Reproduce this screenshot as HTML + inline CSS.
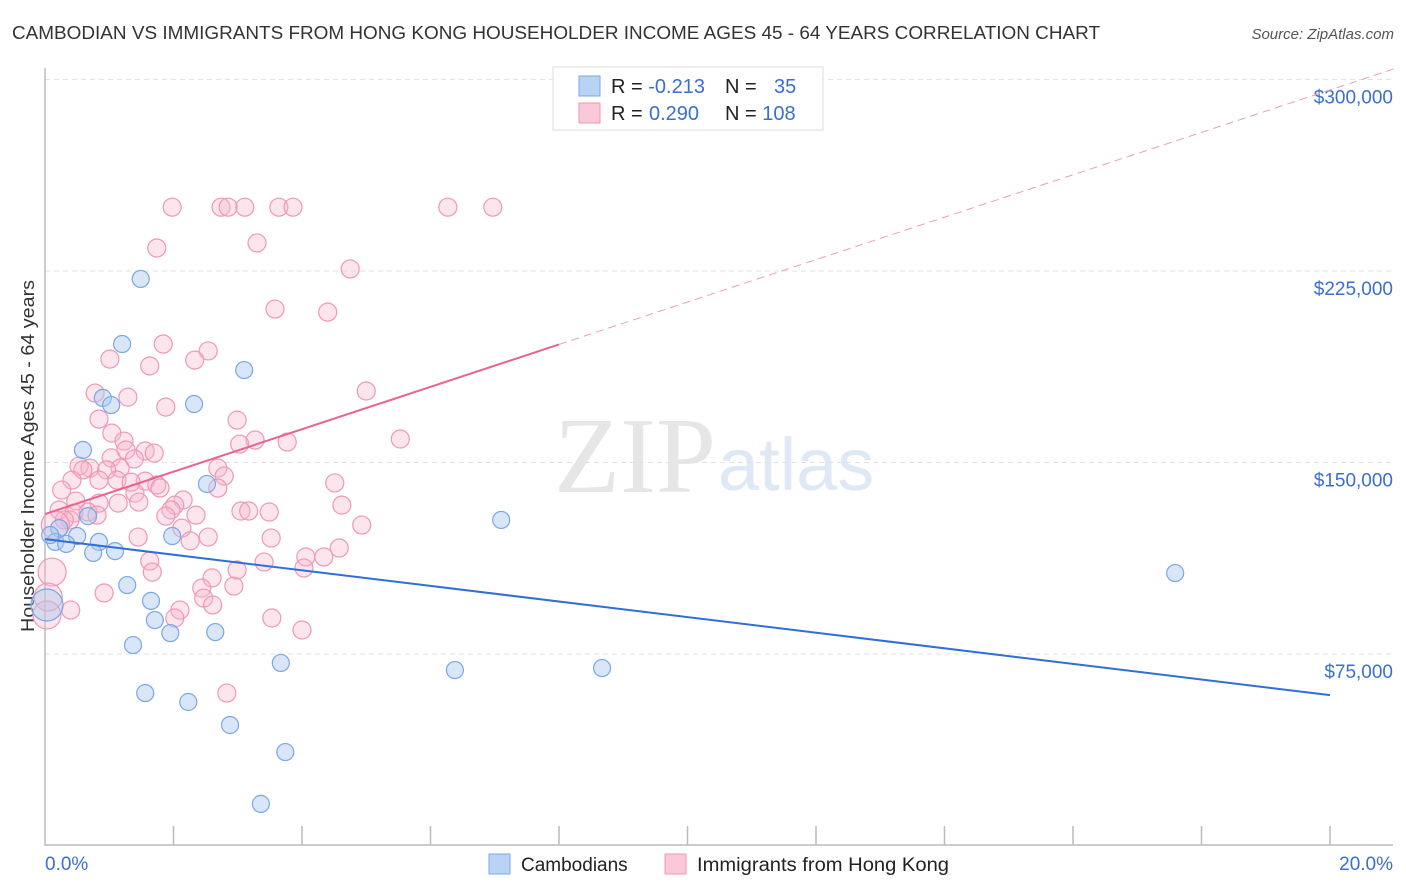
<!DOCTYPE html>
<html><head><meta charset="utf-8"><style>
body{margin:0;background:#fff;font-family:"Liberation Sans",sans-serif;}
#wrap{position:relative;width:1406px;height:892px;overflow:hidden}
</style></head><body><div id="wrap">
<svg id="svg" width="1406" height="892" xmlns="http://www.w3.org/2000/svg">
<text x="12" y="39" font-size="18" fill="#333" textLength="1088" lengthAdjust="spacingAndGlyphs">CAMBODIAN VS IMMIGRANTS FROM HONG KONG HOUSEHOLDER INCOME AGES 45 - 64 YEARS CORRELATION CHART</text>
<text x="1394" y="39" font-size="15" fill="#555" font-style="italic" text-anchor="end">Source: ZipAtlas.com</text>
<text x="34" y="456" font-size="18" fill="#333" text-anchor="middle" textLength="352" lengthAdjust="spacingAndGlyphs" transform="rotate(-90 34 456)">Householder Income Ages 45 - 64 years</text>
<text x="716" y="492" font-size="108" fill="#e6e6e6" text-anchor="end" font-family="Liberation Serif,serif" textLength="162" lengthAdjust="spacingAndGlyphs">ZIP</text>
<text x="718" y="490" font-size="74" fill="#dfe8f5">atlas</text>
<g id="grid"></g><g id="axes"></g><g id="pts"></g><g id="trend"></g>
<g>
<rect x="553" y="67" width="270" height="63" fill="#fff" stroke="#ddd"/>
<rect x="579" y="76" width="21" height="20" fill="#b9d3f5" stroke="#7aa7e6"/>
<rect x="579" y="103" width="21" height="20" fill="#fac8d8" stroke="#ee98b5"/>
<text x="611" y="93" font-size="20" fill="#222">R = <tspan fill="#3a6fd0">-0.213</tspan></text>
<text x="725" y="93" font-size="20" fill="#222">N = <tspan fill="#3a6fd0" x="774">35</tspan></text>
<text x="611" y="120" font-size="20" fill="#222">R = <tspan fill="#3a6fd0" x="649">0.290</tspan></text>
<text x="725" y="120" font-size="20" fill="#222">N = <tspan fill="#3a6fd0">108</tspan></text>
</g>
<g>
<rect x="489" y="854" width="21" height="20" fill="#b9d3f5" stroke="#7aa7e6"/>
<text x="521" y="871" font-size="19" fill="#222">Cambodians</text>
<rect x="665" y="854" width="21" height="20" fill="#fac8d8" stroke="#ee98b5"/>
<text x="697" y="871" font-size="19" fill="#222" textLength="252" lengthAdjust="spacingAndGlyphs">Immigrants from Hong Kong</text>
</g>
</svg></div>
<script>
const yTicks=[75000,150000,225000,300000];
const yTickLabels=["$75,000","$150,000","$225,000","$300,000"];
const xTickLabels=["0.0%","20.0%"];
const blueX=[1.49,1.20,3.10,0.90,1.03,2.32,0.59,2.52,0.67,7.10,0.22,0.50,1.98,0.16,0.33,0.84,1.09,0.75,1.28,1.65,1.71,1.95,2.65,1.37,3.67,6.38,8.67,17.59,1.56,2.23,2.88,3.74,3.36,0.03,0.08];
const blueY=[221.9,196.4,186.2,175.3,172.5,172.9,154.9,141.6,129.0,127.5,124.3,121.2,121.2,118.9,118.1,118.9,115.3,114.6,102.0,95.8,88.3,83.2,83.6,78.5,71.5,68.7,69.5,106.7,59.7,56.2,47.2,36.6,16.3,94.2,121.6];
const blueBig=[0,0,0,0,0,0,0,0,0,0,0,0,0,0,0,0,0,0,0,0,0,0,0,0,0,0,0,0,0,0,0,0,0,1,0];
const pinkX=[1.98,2.74,2.85,3.11,3.64,3.86,6.27,6.97,1.74,3.30,4.75,3.58,4.40,1.84,2.54,1.01,2.33,1.63,5.00,0.78,1.29,1.88,0.84,2.99,1.04,1.23,3.27,3.77,5.53,3.03,1.26,1.56,1.70,1.03,1.39,0.53,0.70,1.17,2.69,0.96,0.59,2.79,0.42,0.84,1.12,1.56,1.34,1.74,4.51,1.79,2.69,0.26,1.40,0.48,0.84,2.15,1.14,1.46,4.62,2.02,0.22,0.45,0.67,1.96,3.05,3.17,3.49,2.35,1.88,0.39,0.81,0.30,4.93,2.13,0.16,1.45,2.54,3.52,2.26,4.58,4.06,4.34,1.63,3.41,4.03,2.99,1.67,2.60,0.11,2.94,2.44,0.92,2.47,0.05,2.61,2.10,0.40,2.02,3.53,4.00,2.83,0.03];
const pinkY=[250,250,250,250,250,250,250,250,234.0,236.0,225.8,210.1,208.9,196.4,193.7,190.5,190.1,187.8,178.0,177.2,175.6,171.7,167.0,166.6,161.5,158.4,158.8,158.0,159.2,157.2,154.9,154.5,153.7,151.8,151.4,148.6,147.8,147.8,147.8,147.1,147.1,144.7,143.1,143.1,143.1,142.7,142.3,141.2,142.0,140.0,140.0,139.2,138.0,134.9,134.1,135.3,134.1,134.5,133.3,133.3,131.4,130.2,130.6,131.4,131.0,131.0,130.6,129.4,129.0,127.5,129.4,127.5,125.5,124.3,125.5,120.8,120.8,120.4,119.3,116.5,113.0,113.0,111.4,111.0,108.7,107.9,107.1,104.8,107.1,101.6,100.8,98.9,96.9,97.3,94.2,92.2,92.2,89.1,89.1,84.4,59.7,90.3];
const pinkBigIdx=[74,88,93,101];
const blueTrend=[120.0,58.9];   // value at 0% and 20%
const pinkTrend=[129.8,295.9];
const NS='http://www.w3.org/2000/svg';
const X0=45,X1=1330,YB=845.5;
const xs=p=>X0+(p/20)*(X1-X0);
const ys=v=>YB-(v/75000)*191.5;
const yk=v=>ys(v*1000);
function mk(tag,attrs,parent){const e=document.createElementNS(NS,tag);for(const k in attrs)e.setAttribute(k,attrs[k]);parent.appendChild(e);return e;}
const grid=document.getElementById('grid'),axes=document.getElementById('axes'),pts=document.getElementById('pts'),tr=document.getElementById('trend');
yTicks.forEach((t,i)=>{
 const l=mk('line',{x1:45,x2:1393,y1:ys(t),y2:ys(t),stroke:'#e2e2e2','stroke-dasharray':'5,4'},grid);
 
 
 const tx=mk('text',{x:1393,y:ys(t)+24,'font-size':19,fill:'#3a6fd0','text-anchor':'end'},axes);
 tx.textContent=yTickLabels[i];
 
 
});
const ax=mk('path',{d:'M45,68 V845 H1393',fill:'none',stroke:'#bbb','stroke-width':1.5},axes);


for(let i=1;i<=10;i++){const x=xs(i*2);const t=mk('line',{x1:x,x2:x,y1:826,y2:845,stroke:'#bbb','stroke-width':1.5},axes);
 
 }
[[45,'start'],[1393,'end']].forEach((a,i)=>{const t=mk('text',{x:a[0],y:870,'font-size':19,fill:'#3a6fd0','text-anchor':a[1]},axes);t.textContent=xTickLabels[i];
 
 });
pinkX.forEach((x,i)=>{const big=pinkBigIdx.includes(i);
 const c=mk('circle',{cx:xs(x),cy:yk(pinkY[i]),r:big?14:9,fill:'rgba(248,180,202,0.35)',stroke:'#ee98b5','stroke-width':1.2},pts);
 
 });
blueX.forEach((x,i)=>{
 const c=mk('circle',{cx:xs(x),cy:yk(blueY[i]),r:blueBig[i]?16:8.5,fill:'rgba(170,200,240,0.45)',stroke:'#7aa7e6','stroke-width':1.2},pts);
 
 });
const pAt=p=>pinkTrend[0]+(pinkTrend[1]-pinkTrend[0])*p/20;
const bl=mk('line',{x1:xs(0),y1:yk(blueTrend[0]),x2:xs(20),y2:yk(blueTrend[1]),stroke:'#2f6fd6','stroke-width':2},tr);


const ps=mk('line',{x1:xs(0),y1:yk(pAt(0)),x2:xs(8),y2:yk(pAt(8)),stroke:'#e8648f','stroke-width':2},tr);


const pd=mk('line',{x1:xs(8),y1:yk(pAt(8)),x2:xs(21),y2:yk(pAt(21)),stroke:'#eaa0b8','stroke-width':1,'stroke-dasharray':'8,5'},tr);


</script></body></html>
